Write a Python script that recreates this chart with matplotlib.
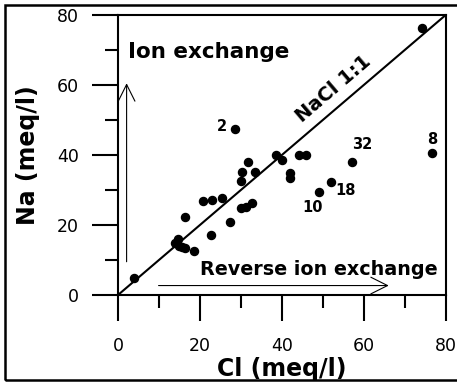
import matplotlib
matplotlib.use("Agg")
import matplotlib.pyplot as plt
from matplotlib.patches import Rectangle
from matplotlib.ticker import MultipleLocator

# ---- data ----
cl = [74.3, 28.6, 76.6, 57.2, 52.1, 49.0, 38.5, 40.0, 44.2, 45.9, 41.9, 41.9,
      31.8, 30.3, 33.5, 30.1, 16.4, 20.8, 22.9, 25.5, 30.0, 31.3, 32.6, 27.3,
      22.8, 14.6, 13.9, 14.8, 16.4, 18.5, 4.0, 15.6]
na = [76.2, 47.4, 40.5, 38.1, 32.4, 29.5, 40.0, 38.5, 40.0, 40.0, 34.8, 33.4,
      38.1, 35.1, 35.1, 32.6, 22.2, 26.9, 27.1, 27.7, 24.8, 25.2, 26.4, 20.8,
      17.1, 16.1, 15.0, 14.0, 13.3, 12.7, 4.9, 13.8]
sample_labels = ["2", "32", "8", "18", "10"]
label_xy = [(25.4, 48.1), (59.6, 42.9), (76.6, 44.3), (55.5, 29.8), (47.6, 24.9)]
line_11 = [0, 80]
xticks = [0, 20, 40, 60, 80]
yticks = [0, 20, 40, 60, 80]

fig = plt.figure(figsize=(4.57, 3.85), dpi=100)
ax = fig.add_axes([118 / 457, 90 / 385, 327.7 / 457, 280 / 385])

ax.plot(line_11, line_11, color="black", lw=1.5, zorder=2)
ax.plot(cl, na, "o", color="black", ms=5.8, zorder=3)

for t, (x, y) in zip(sample_labels, label_xy):
    ax.text(x, y, t, fontsize=10.5, fontweight="bold", ha="center", va="center")

ax.text(52.7, 59.0, "NaCl 1:1", fontsize=14, fontweight="bold", rotation=45,
        transform_rotates_text=True, rotation_mode="anchor",
        ha="center", va="center")
ax.text(2.4, 69.4, "Ion exchange", fontsize=15.5, fontweight="bold",
        ha="left", va="center")
ax.text(20.1, 7.2, "Reverse ion exchange", fontsize=13.8, fontweight="bold",
        ha="left", va="center")

arrow = dict(arrowstyle="->, head_length=0.6, head_width=0.3", lw=0.8,
             color="black", mutation_scale=20, shrinkA=0, shrinkB=0)
ax.annotate("", xy=(2.1, 60.5), xytext=(2.1, 9.5), arrowprops=arrow)
ax.annotate("", xy=(66.1, 2.7), xytext=(9.9, 2.7), arrowprops=arrow)

ax.set_xlim(0, 80)
ax.set_ylim(0, 80)
ax.set_xticks(xticks)
ax.set_yticks(yticks)
ax.xaxis.set_minor_locator(MultipleLocator(10))
ax.yaxis.set_minor_locator(MultipleLocator(10))
ax.tick_params(which="major", direction="out", length=19, width=1.5,
               labelsize=12.5)
ax.tick_params(axis="x", which="major", pad=11)
ax.tick_params(axis="y", which="major", pad=9)
ax.tick_params(which="minor", direction="out", length=9.5, width=1.5)
for s in ax.spines.values():
    s.set_linewidth(1.5)

ax.set_xlabel("Cl (meq/l)", fontsize=17, fontweight="bold", labelpad=2)
ax.set_ylabel("Na (meq/l)", fontsize=17, fontweight="bold", labelpad=12)

fig.patches.append(Rectangle((5 / 457, 5 / 385), 470 / 457, 375 / 385,
                             transform=fig.transFigure, fill=False,
                             edgecolor="black", lw=1.8, zorder=10))

fig.savefig("out.png", dpi=100)
